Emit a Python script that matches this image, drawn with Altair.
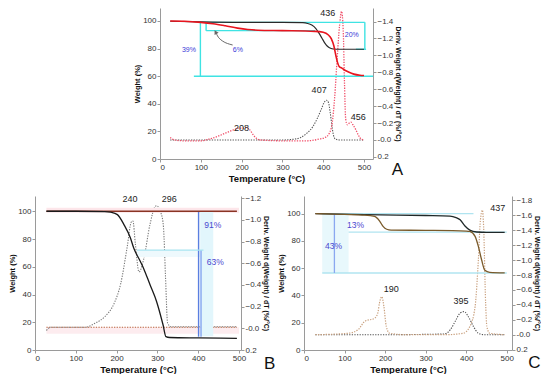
import altair as alt
import pandas as pd

FONT = "Liberation Sans"

# ---------------- Panel A data ----------------
A_blk_tga_T = [25, 100, 200, 300, 350, 362, 372, 382, 390, 397, 404, 411, 418, 425, 440, 500]
A_blk_tga_W = [99.8, 99.3, 99.0, 99.0, 98.8, 98.2, 97.0, 94.5, 91.0, 87.5, 84.0, 81.5, 80.2, 79.7, 79.5, 79.5]
A_red_tga_T = [25, 60, 100, 130, 160, 190, 215, 240, 300, 380, 400, 412, 420, 426, 431, 435, 439, 445, 452, 462, 475, 490, 500]
A_red_tga_W = [100, 99.8, 99.0, 98.0, 96.5, 94.8, 93.8, 93.3, 93.0, 92.5, 91.8, 90.0, 87.0, 82.0, 75.0, 70.0, 67.0, 66.0, 64.5, 63.0, 61.5, 60.7, 60.5]
A_blk_dtg_T = [25, 100, 300, 330, 345, 360, 375, 385, 395, 402, 408, 413, 417, 421, 425, 430, 440, 500]
A_blk_dtg_D = [0.0, 0.0, 0.0, -0.01, -0.03, -0.08, -0.16, -0.25, -0.36, -0.44, -0.47, -0.44, -0.33, -0.18, -0.06, -0.01, 0.0, 0.0]
A_red_dtg_T = [25, 35, 60, 100, 120, 140, 160, 180, 195, 205, 212, 220, 230, 245, 300, 360, 390, 405, 415, 422, 428, 434, 440, 445, 449, 452, 455, 459, 464, 468, 474, 480, 487, 493, 500]
A_red_dtg_D = [-0.03, 0.0, 0.01, 0.01, -0.01, -0.04, -0.08, -0.12, -0.14, -0.14, -0.15, -0.12, -0.05, 0.0, 0.01, 0.01, -0.01, -0.03, -0.08, -0.2, -0.5, -0.95, -1.35, -1.52, -1.3, -0.7, -0.25, -0.18, -0.2, -0.21, -0.17, -0.12, -0.05, -0.01, 0.0]
# cyan brackets (T1, T2, W1, W2)
A_rule_T1 = [98, 99, 83, 113, 113, 502, 480]
A_rule_T2 = [502, 99, 522, 113, 380, 502, 505]
A_rule_W1 = [99, 99, 60, 99, 93, 99, 79.5]
A_rule_W2 = [99, 60, 60, 93, 93, 79.5, 79.5]
A_arrow_T = [178, 145, 137]
A_arrow_W = [82.6, 87.5, 91.5]
A_peak_txt = ["436", "407", "456", "208"]
A_peak_T = [411, 390, 486, 200]
A_peak_W = [106, 50, 30.6, 22.7]
A_pct_txt = ["39%", "6%", "20%"]
A_pct_T = [71, 191, 470]
A_pct_W = [79, 79, 89.9]

# ---------------- Panel B data ----------------
B_blk_tga_T = [28, 100, 171, 185, 202, 218, 234, 242, 258, 266, 282, 298, 314, 321, 330, 400, 495]
B_blk_tga_W = [100, 100, 99.8, 99.3, 97.6, 90.4, 80.7, 73.5, 64.0, 59.0, 47.0, 35.0, 18.0, 9.6, 9.0, 8.7, 8.4]
B_brn_tga_T = [28, 495]
B_brn_tga_W = [100, 100]
B_gry_dtg_T = [28, 33, 40, 80, 123, 147, 171, 194, 210, 226, 236, 240, 246, 255, 266, 282, 294, 298, 310, 315, 320, 325, 333, 400, 495]
B_gry_dtg_D = [0.02, 0.0, -0.01, -0.01, -0.01, -0.046, -0.107, -0.23, -0.41, -0.75, -0.98, -0.99, -0.78, -0.52, -0.63, -0.96, -1.12, -1.13, -1.05, -0.93, -0.47, -0.05, -0.015, -0.015, -0.015]
B_brn_dtg_T = [28, 495]
B_brn_dtg_D = [-0.01, -0.01]
B_rule_T1 = [401, 407, 250]
B_rule_T2 = [401, 407, 413]
B_rule_W1 = [100, 72, 72]
B_rule_W2 = [9.6, 9.6, 72]
B_rule_col = ["#5a7fe0", "#86a6f0", "#a8e4f0"]
B_peak_txt = ["240", "296"]
B_peak_T = [233, 329]
B_peak_W = [108.5, 108.5]
B_pct_txt = ["91%", "63%"]
B_pct_T = [436, 442]
B_pct_W = [89.9, 63.4]

# ---------------- Panel C data ----------------
C_blk_tga_T = [28, 150, 300, 360, 375, 385, 397, 409, 426, 450, 495]
C_blk_tga_W = [100, 99.3, 98.7, 98.3, 97.2, 95.6, 91.0, 88.0, 86.6, 86.3, 86.3]
C_brn_tga_T = [28, 100, 150, 174, 187, 195, 204, 215, 300, 400, 409, 422, 430, 438, 446, 458, 495]
C_brn_tga_W = [100, 99.5, 99.0, 98.0, 94.4, 90.7, 88.6, 88.0, 87.8, 87.3, 87.0, 83.4, 76.0, 66.2, 58.5, 57.0, 56.6]
C_blk_dtg_T = [28, 200, 345, 361, 373, 385, 395, 405, 418, 430, 445, 495]
C_blk_dtg_D = [0, 0, -0.01, -0.067, -0.18, -0.29, -0.31, -0.245, -0.11, -0.02, 0, 0]
C_brn_dtg_T = [28, 110, 134, 150, 174, 182, 186, 192, 197, 203, 211, 250, 350, 393, 409, 422, 430, 435, 440, 443, 448, 451, 458, 495]
C_brn_dtg_D = [0, -0.02, -0.07, -0.18, -0.22, -0.29, -0.42, -0.51, -0.38, -0.11, -0.02, 0, 0, -0.02, -0.11, -0.38, -1.0, -1.53, -1.67, -1.45, -0.42, -0.11, -0.02, 0]
C_rule_T1 = [45, 110, 45, 75]
C_rule_T2 = [418, 500, 500, 75]
C_rule_W1 = [100, 86.5, 56.5, 99.5]
C_rule_W2 = [100, 86.5, 56.5, 56.5]
C_rule_col = ["#b0e4f0", "#b0e4f0", "#b0e4f0", "#8aa8f0"]
C_peak_txt = ["190", "395", "437"]
C_peak_T = [215, 387, 478]
C_peak_W = [44.8, 35.7, 104]
C_pct_txt = ["13%", "43%"]
C_pct_T = [127, 73]
C_pct_W = [92, 76]

LEFT_VALUES = [0, 20, 40, 60, 80, 100]
X_VALUES = [0, 100, 200, 300, 400, 500]
A_RIGHT_VALUES = [-1.4, -1.2, -1.0, -0.8, -0.6, -0.4, -0.2, 0.0, 0.2]
B_RIGHT_VALUES = [-1.2, -1.0, -0.8, -0.6, -0.4, -0.2, 0.0, 0.2]
C_RIGHT_VALUES = [-1.8, -1.6, -1.4, -1.2, -1.0, -0.8, -0.6, -0.4, -0.2, 0.0, 0.2]

AX = dict(domainColor="#9a9a9a", tickColor="#9a9a9a", tickSize=3, labelColor="#333333",
          labelFontSize=8, labelFont=FONT, titleFont=FONT, titleColor="#111111",
          titleFontWeight="bold", grid=False, labelPadding=1)


def panel(xdom, ldom, rdom, rvals, left_layers_spec, right_layers_spec, letter, letter_T, letter_W):
    xaxis = alt.Axis(values=X_VALUES, title="Temperature (°C)", titleFontSize=9.5, titlePadding=2, **AX)
    laxis = alt.Axis(values=LEFT_VALUES, title="Weight (%)", titleFontSize=7.5, titlePadding=1, format="d", **AX)
    raxis = alt.Axis(values=rvals, orient="right", title="Deriv. Weight d(Weight) / dT (%/°C)",
                     titleFontSize=7, titlePadding=2,
                     labelExpr="abs(datum.value) < 0.001 ? '-0.0' : format(datum.value, '.1f')", **AX)
    xs = alt.Scale(domain=xdom, nice=False, zero=False)
    ls = alt.Scale(domain=ldom, nice=False, zero=False)
    rs = alt.Scale(domain=rdom, nice=False, zero=False, reverse=True)

    def X(f):
        return alt.X(f, type="quantitative", scale=xs, axis=xaxis)

    def YL(f):
        return alt.Y(f, type="quantitative", scale=ls, axis=laxis)

    def YR(f):
        return alt.Y(f, type="quantitative", scale=rs, axis=raxis)

    left = []
    for kind, d, opts in left_layers_spec:
        data = pd.DataFrame(d)
        if kind == "rect":
            left.append(alt.Chart(data).mark_rect(**opts).encode(
                x=X("T1"), x2=alt.X2("T2"), y=YL("W1"), y2=alt.Y2("W2")))
        elif kind == "rule":
            left.append(alt.Chart(data).mark_rule(**opts).encode(
                x=X("T1"), x2=alt.X2("T2"), y=YL("W1"), y2=alt.Y2("W2"),
                color=alt.Color("c:N", scale=None)))
        elif kind == "line":
            left.append(alt.Chart(data).mark_line(**opts).encode(x=X("T"), y=YL("W")))
        elif kind == "text":
            left.append(alt.Chart(data).mark_text(**opts).encode(x=X("T"), y=YL("W"), text="s:N"))
        elif kind == "point":
            left.append(alt.Chart(data).mark_point(**opts).encode(x=X("T"), y=YL("W")))
    lt = pd.DataFrame({"T": [letter_T], "W": [letter_W], "s": [letter]})
    left.append(alt.Chart(lt).mark_text(font=FONT, fontSize=17, color="#111111").encode(
        x=X("T"), y=YL("W"), text="s:N"))

    right = []
    for kind, d, opts in right_layers_spec:
        data = pd.DataFrame(d)
        if kind == "rect":
            right.append(alt.Chart(data).mark_rect(**opts).encode(
                x=X("T1"), x2=alt.X2("T2"), y=YR("D1"), y2=alt.Y2("D2")))
        else:
            right.append(alt.Chart(data).mark_line(**opts).encode(x=X("T"), y=YR("D")))

    lr = alt.layer(*right)
    ll = alt.layer(*left)
    return alt.layer(lr, ll).resolve_scale(y="independent")


DOT = [1.3, 1.3]
TXT = dict(font=FONT, fontSize=9, color="#222222")
PCT = dict(font=FONT, fontSize=8.5, color="#4a48d0")

# ---- Panel A ----
A_left = [
    ("rule", {"T1": A_rule_T1, "T2": A_rule_T2, "W1": A_rule_W1, "W2": A_rule_W2,
              "c": ["#3fe3e3"] * len(A_rule_T1)}, dict(strokeWidth=1.4)),
    ("line", {"T": A_blk_tga_T, "W": A_blk_tga_W}, dict(color="#2a2a2a", strokeWidth=1.2, interpolate="monotone")),
    ("line", {"T": A_red_tga_T, "W": A_red_tga_W}, dict(color="#e8141e", strokeWidth=1.6, interpolate="monotone")),
    ("line", {"T": A_arrow_T, "W": A_arrow_W}, dict(color="#666666", strokeWidth=1, interpolate="monotone")),
    ("point", {"T": [A_arrow_T[-1]], "W": [A_arrow_W[-1]]},
     dict(shape="triangle", angle=330, filled=True, size=22, color="#666666", opacity=1)),
    ("text", {"T": A_peak_T, "W": A_peak_W, "s": A_peak_txt}, TXT),
    ("text", {"T": A_pct_T, "W": A_pct_W, "s": A_pct_txt}, dict(font=FONT, fontSize=7, color="#3a3ad8")),
]
A_right = [
    ("line", {"T": A_blk_dtg_T, "D": A_blk_dtg_D}, dict(color="#555555", strokeWidth=1.1, strokeDash=DOT, interpolate="monotone")),
    ("line", {"T": A_red_dtg_T, "D": A_red_dtg_D}, dict(color="#f0506a", strokeWidth=1.3, strokeDash=DOT, interpolate="monotone")),
]
chartA = panel([0, 522], [0, 109.4], [-1.56, 0.225], A_RIGHT_VALUES, A_left, A_right,
               "A", 582, -8).properties(width=213, height=151)

# ---- Panel B ----
B_left = [
    ("rect", {"T1": [28], "T2": [500], "W1": [99], "W2": [102.5]}, dict(color="#fde6ea")),
    ("rect", {"T1": [405], "T2": [437], "W1": [10], "W2": [100]}, dict(color="#e2f6fc")),
    ("rect", {"T1": [250], "T2": [405], "W1": [67], "W2": [72]}, dict(color="#eef9fd")),
    ("rule", {"T1": B_rule_T1, "T2": B_rule_T2, "W1": B_rule_W1, "W2": B_rule_W2, "c": B_rule_col},
     dict(strokeWidth=1.4)),
    ("line", {"T": B_brn_tga_T, "W": B_brn_tga_W}, dict(color="#8a3424", strokeWidth=1.3)),
    ("line", {"T": B_blk_tga_T, "W": B_blk_tga_W}, dict(color="#1a1a1a", strokeWidth=1.3, interpolate="monotone")),
    ("text", {"T": B_peak_T, "W": B_peak_W, "s": B_peak_txt}, TXT),
    ("text", {"T": B_pct_T, "W": B_pct_W, "s": B_pct_txt}, PCT),
]
B_right = [
    ("rect", {"T1": [28], "T2": [500], "D1": [-0.01], "D2": [0.05]}, dict(color="#fdecef")),
    ("line", {"T": B_brn_dtg_T, "D": B_brn_dtg_D}, dict(color="#b8603a", strokeWidth=1.2, strokeDash=DOT)),
    ("line", {"T": B_gry_dtg_T, "D": B_gry_dtg_D}, dict(color="#7a7a7a", strokeWidth=1.1, strokeDash=DOT, interpolate="monotone")),
]
chartB = panel([0, 505], [0, 111], [-1.22, 0.2], B_RIGHT_VALUES, B_left, B_right,
               "B", 575, -10).properties(width=206, height=154)

# ---- Panel C ----
C_left = [
    ("rect", {"T1": [45], "T2": [110], "W1": [56.5], "W2": [100]}, dict(color="#e8f8fc")),
    ("rule", {"T1": C_rule_T1, "T2": C_rule_T2, "W1": C_rule_W1, "W2": C_rule_W2, "c": C_rule_col},
     dict(strokeWidth=1.3)),
    ("line", {"T": C_blk_tga_T, "W": C_blk_tga_W}, dict(color="#1f2828", strokeWidth=1.3, interpolate="monotone")),
    ("line", {"T": C_brn_tga_T, "W": C_brn_tga_W}, dict(color="#7a5a2a", strokeWidth=1.3, interpolate="monotone")),
    ("text", {"T": C_peak_T, "W": C_peak_W, "s": C_peak_txt}, TXT),
    ("text", {"T": C_pct_T, "W": C_pct_W, "s": C_pct_txt}, PCT),
]
C_right = [
    ("line", {"T": C_blk_dtg_T, "D": C_blk_dtg_D}, dict(color="#555555", strokeWidth=1.1, strokeDash=DOT, interpolate="monotone")),
    ("line", {"T": C_brn_dtg_T, "D": C_brn_dtg_D}, dict(color="#c9a07e", strokeWidth=1.2, strokeDash=DOT, interpolate="monotone")),
]
chartC = panel([0, 513], [0, 113], [-1.86, 0.205], C_RIGHT_VALUES, C_left, C_right,
               "C", 568, -9.5).properties(width=208, height=154)

spacer = alt.Chart(pd.DataFrame({"v": [0]})).mark_point(opacity=0).properties(width=94, height=151)

row1 = alt.hconcat(spacer, chartA, spacing=4)
row2 = alt.hconcat(chartB, chartC, spacing=1)
chart = alt.vconcat(row1, row2, spacing=11).properties(
    padding={"left": 0, "top": 0, "right": 0, "bottom": 0}
).configure_view(stroke=None)

chart.save("out.html", embed_options={"renderer": "svg", "actions": False})
